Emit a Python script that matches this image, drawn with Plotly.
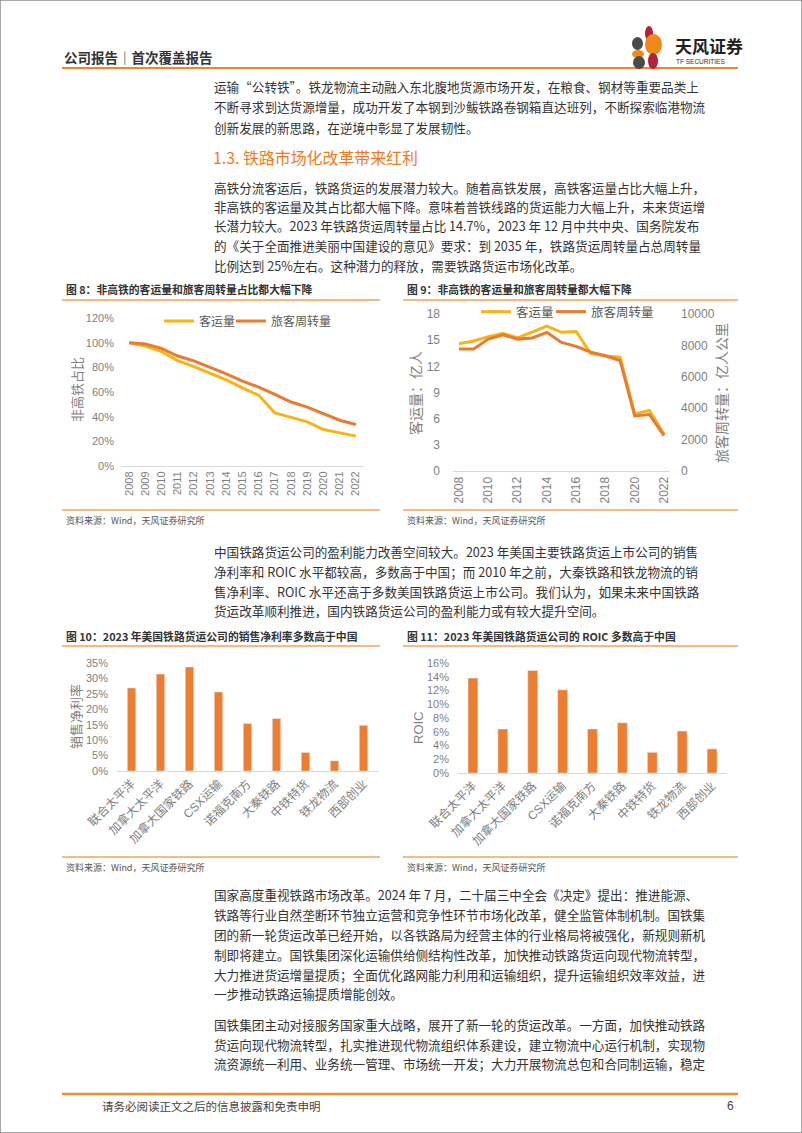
import plotly.graph_objects as go

W, H = 802, 1133

# ---------------- data ----------------
years = list(range(2008, 2023))
share_passengers = [100, 97.3, 92.7, 85.5, 80.6, 75.3, 69.9, 63.4, 57.3, 43.0, 39.2, 35.8, 29.6, 26.9, 24.2]
share_pkm = [100, 98.9, 95.4, 89.2, 85.2, 80.1, 74.7, 68.8, 64.0, 58.0, 51.9, 47.8, 42.5, 37.1, 33.6]

passengers = [14.6, 14.9, 15.4, 15.8, 15.25, 15.9, 16.6, 15.9, 16.0, 13.45, 13.2, 13.05, 6.55, 6.95, 4.25]
pkm = [7770, 7770, 8400, 8680, 8400, 8470, 8830, 8190, 7940, 7570, 7340, 7040, 3510, 3600, 2250]

companies = ["联合太平洋", "加拿大太平洋", "加拿大国家铁路", "CSX运输", "诺福克南方",
             "大秦铁路", "中铁特货", "铁龙物流", "西部创业"]
net_margin = [26.9, 31.4, 33.7, 25.6, 15.4, 17.0, 6.0, 3.3, 14.8]
roic = [13.8, 6.4, 14.9, 12.1, 6.4, 7.3, 3.0, 6.1, 3.5]

YELLOW = "#F8B416"
ORANGE = "#E97B30"
BAR = "#ED7D31"
GRAY = "#7f7f7f"
TXT = "#333333"
RULE = "#F2A35E"
BODY = 12.6

def px(x):
    return x / W

def py(y):
    return 1 - y / H

fig = go.Figure()

# chart 8
fig.add_trace(go.Scatter(x=years, y=share_passengers, name="客运量", mode="lines",
                         line=dict(color=YELLOW, width=3), xaxis="x", yaxis="y", legend="legend"))
fig.add_trace(go.Scatter(x=years, y=share_pkm, name="旅客周转量", mode="lines",
                         line=dict(color=ORANGE, width=3), xaxis="x", yaxis="y", legend="legend3"))
# chart 9
fig.add_trace(go.Scatter(x=years, y=passengers, name="客运量", mode="lines",
                         line=dict(color=YELLOW, width=3), xaxis="x2", yaxis="y2", legend="legend2"))
fig.add_trace(go.Scatter(x=years, y=pkm, name="旅客周转量", mode="lines",
                         line=dict(color=ORANGE, width=3), xaxis="x2", yaxis="y3", legend="legend4"))
# chart 10
fig.add_trace(go.Bar(x=companies, y=net_margin, marker_color=BAR, width=0.29,
                     xaxis="x4", yaxis="y4", showlegend=False))
# chart 11
fig.add_trace(go.Bar(x=companies, y=roic, marker_color=BAR, width=0.33,
                     xaxis="x5", yaxis="y5", showlegend=False))

tickfont = dict(family="Liberation Sans, Noto Sans CJK SC", size=11, color=GRAY)
tickfont2 = dict(family="Liberation Sans, Noto Sans CJK SC", size=12, color=GRAY)
catfont = dict(family="Liberation Sans, Noto Sans CJK SC", size=12, color=GRAY)

common_x = dict(showgrid=False, zeroline=False, showline=True, linecolor="#d9d9d9", linewidth=1,
                ticks="", automargin=False)
common_y = dict(showgrid=False, zeroline=False, showline=False, ticks="", automargin=False)

def leg(x, y, size):
    return dict(orientation="h", x=px(x), y=py(y), xanchor="left", yanchor="middle",
                font=dict(size=size, color="#595959"), bgcolor="rgba(0,0,0,0)", itemwidth=30)

fig.update_layout(
    width=W, height=H, margin=dict(l=0, r=0, t=0, b=0, pad=0, autoexpand=False),
    paper_bgcolor="white", plot_bgcolor="white",
    font=dict(family="Noto Sans CJK SC", color=TXT),
    xaxis=dict(domain=[px(121), px(364)], range=[2007.5, 2022.5], tickvals=years,
               ticktext=[str(y) for y in years], tickangle=-90, tickfont=tickfont,
               anchor="y", **common_x),
    yaxis=dict(domain=[py(466), py(318)], range=[0, 120], dtick=20, ticksuffix="%",
               tickfont=tickfont, anchor="x", ticklabelstandoff=6, **common_y),
    xaxis2=dict(domain=[px(453), px(670)], range=[2007.59, 2022.41], tickvals=years[::2],
                ticktext=[str(y) for y in years[::2]], tickangle=-90, tickfont=tickfont2,
                anchor="y2", **common_x),
    yaxis2=dict(domain=[py(471), py(314)], range=[0, 18], dtick=3, tickfont=tickfont2,
                anchor="x2", ticklabelstandoff=12, **common_y),
    yaxis3=dict(range=[0, 10000], dtick=2000, tickformat="d", tickfont=tickfont2, overlaying="y2",
                side="right", anchor="x2", ticklabelstandoff=10, **common_y),
    xaxis4=dict(domain=[px(117), px(378)], range=[-0.5, 8.5], type="category", tickangle=-45,
                tickfont=catfont, anchor="y4", **common_x),
    yaxis4=dict(domain=[py(771), py(663)], range=[0, 35], dtick=5, ticksuffix="%",
                tickfont=tickfont, anchor="x4", ticklabelstandoff=8, **common_y),
    xaxis5=dict(domain=[px(458), px(727)], range=[-0.5, 8.5], type="category", tickangle=-45,
                tickfont=catfont, anchor="y5", **common_x),
    yaxis5=dict(domain=[py(773), py(663)], range=[0, 16], dtick=2, ticksuffix="%",
                tickfont=tickfont, anchor="x5", ticklabelstandoff=8, **common_y),
    legend=leg(159, 321, 12),
    legend3=leg(231, 321, 12),
    legend2=leg(476, 312, 12.5),
    legend4=leg(551, 312, 12.5),
)

ann = []

def txt(x, y, s, size=BODY, color=TXT, anchor="left", bold=False, angle=0, family=None):
    f = dict(size=size, color=color)
    if family:
        f["family"] = family
    ann.append(dict(x=px(x), y=py(y), xref="paper", yref="paper", text=("<b>%s</b>" % s) if bold else s,
                    showarrow=False, xanchor=anchor, yanchor="middle", font=f, textangle=angle))

# header
txt(62, 57, "公司报告｜首次覆盖报告", size=13.5, bold=True)
txt(673, 46, "天风证券", size=17, bold=True, color="#222222")
txt(674, 61, "TF SECURITIES", size=6.5, color="#333333", family="Liberation Sans")

para1 = ["运输“公转铁”。铁龙物流主动融入东北腹地货源市场开发，在粮食、钢材等重要品类上",
         "不断寻求到达货源增量，成功开发了本钢到沙鲅铁路卷钢箱直达班列，不断探索临港物流",
         "创新发展的新思路，在逆境中彰显了发展韧性。"]
for s, y in zip(para1, [87, 107, 127]):
    txt(212, y, s)

txt(211, 157, "1.3. 铁路市场化改革带来红利", size=15.9, color="#EE7A1E")

para2 = ["高铁分流客运后，铁路货运的发展潜力较大。随着高铁发展，高铁客运量占比大幅上升，",
         "非高铁的客运量及其占比都大幅下降。意味着普铁线路的货运能力大幅上升，未来货运增",
         "长潜力较大。2023 年铁路货运周转量占比 14.7%，2023 年 12 月中共中央、国务院发布",
         "的《关于全面推进美丽中国建设的意见》要求：到 2035 年，铁路货运周转量占总周转量",
         "比例达到 25%左右。这种潜力的释放，需要铁路货运市场化改革。"]
for s, y in zip(para2, [187, 207, 226, 246, 265]):
    txt(212, y, s)

# chart titles and sources
TS = 10.8
txt(64, 289, "图 8：非高铁的客运量和旅客周转量占比都大幅下降", size=TS, bold=True)
txt(405, 289, "图 9：非高铁的客运量和旅客周转量都大幅下降", size=TS, bold=True)
txt(64, 520, "资料来源：Wind，天风证券研究所", size=9, color="#555555")
txt(405, 520, "资料来源：Wind，天风证券研究所", size=9, color="#555555")
txt(76, 390, "非高铁占比", size=13, color=GRAY, anchor="center", angle=-90)
txt(415, 393, "客运量：亿人", size=14, color=GRAY, anchor="center", angle=-90)
txt(721, 393, "旅客周转量：亿人公里", size=14, color=GRAY, anchor="center", angle=-90)

para3 = ["中国铁路货运公司的盈利能力改善空间较大。2023 年美国主要铁路货运上市公司的销售",
         "净利率和 ROIC 水平都较高，多数高于中国；而 2010 年之前，大秦铁路和铁龙物流的销",
         "售净利率、ROIC 水平还高于多数美国铁路货运上市公司。我们认为，如果未来中国铁路",
         "货运改革顺利推进，国内铁路货运公司的盈利能力或有较大提升空间。"]
for s, y in zip(para3, [551, 571, 591, 610]):
    txt(212, y, s)

txt(64, 636, "图 10：2023 年美国铁路货运公司的销售净利率多数高于中国", size=TS, bold=True)
txt(405, 636, "图 11：2023 年美国铁路货运公司的 ROIC 多数高于中国", size=TS, bold=True)
txt(64, 867, "资料来源：Wind，天风证券研究所", size=9, color="#555555")
txt(405, 867, "资料来源：Wind，天风证券研究所", size=9, color="#555555")
txt(75, 717, "销售净利率", size=13, color=GRAY, anchor="center", angle=-90)
txt(418, 727, "ROIC", size=13, color=GRAY, anchor="center", angle=-90, family="Liberation Sans")

para4 = ["国家高度重视铁路市场改革。2024 年 7 月，二十届三中全会《决定》提出：推进能源、",
         "铁路等行业自然垄断环节独立运营和竞争性环节市场化改革，健全监管体制机制。国铁集",
         "团的新一轮货运改革已经开始，以各铁路局为经营主体的行业格局将被强化，新规则新机",
         "制即将建立。国铁集团深化运输供给侧结构性改革，加快推动铁路货运向现代物流转型，",
         "大力推进货运增量提质；全面优化路网能力利用和运输组织，提升运输组织效率效益，进",
         "一步推动铁路运输提质增能创效。"]
for s, y in zip(para4, [894, 914, 934, 954, 974, 993]):
    txt(212, y, s)

para5 = ["国铁集团主动对接服务国家重大战略，展开了新一轮的货运改革。一方面，加快推动铁路",
         "货运向现代物流转型，扎实推进现代物流组织体系建设，建立物流中心运行机制，实现物",
         "流资源统一利用、业务统一管理、市场统一开发；大力开展物流总包和合同制运输，稳定"]
for s, y in zip(para5, [1024, 1044, 1063]):
    txt(212, y, s)

txt(100, 1106, "请务必阅读正文之后的信息披露和免责申明", size=11.5, color="#444444")
txt(736, 1106, "6", size=12, color="#444444", anchor="right", family="Liberation Sans")

fig.update_layout(annotations=ann)

shapes = []

def hline(x0, x1, y, color=RULE, width=1.5):
    shapes.append(dict(type="line", xref="paper", yref="paper", x0=px(x0), x1=px(x1),
                       y0=py(y), y1=py(y), line=dict(color=color, width=width)))

hline(62, 738, 68, color="#E8892B", width=2)
hline(62, 738, 1094, color="#E8922B", width=2.5)
for (a, b) in [(62, 380), (403, 738)]:
    hline(a, b, 300)
    hline(a, b, 510)
    hline(a, b, 646)
    hline(a, b, 857)

# logo petals
def ell(x0, y0, x1, y1, color):
    shapes.append(dict(type="circle", xref="paper", yref="paper", x0=px(x0), x1=px(x1),
                       y0=py(y1), y1=py(y0), fillcolor=color, line=dict(width=0)))

ell(645, 26, 653, 41, "#B5213A")
ell(632, 37, 643, 50, "#4A4A4A")
ell(645, 34, 662, 55, "#EF8A1A")
ell(632, 50, 644, 58, "#EF8A1A")
ell(633, 56, 645, 69, "#4A4A4A")
ell(648, 53, 658, 69, "#B5213A")

# page border
shapes.append(dict(type="rect", xref="paper", yref="paper", x0=0, x1=1, y0=0, y1=1,
                   line=dict(color="#8a8a8a", width=1.5), fillcolor="rgba(0,0,0,0)"))

fig.update_layout(shapes=shapes)

fig.write_html("out.html", config={"displayModeBar": False},
               post_script="document.body.style.margin='0';document.body.style.padding='0';")
